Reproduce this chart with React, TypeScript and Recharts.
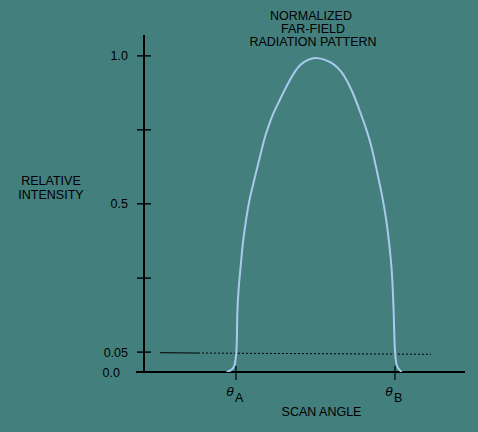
import { Line, LineChart, ReferenceLine, XAxis, YAxis } from "recharts";

// Scan angle in units where theta A = -1 and theta B = +1.
const SCAN_ANGLE = [
  -1.117, -1.054, -1.013, -0.991, -0.987, -0.984, -0.966, -0.941, -0.916, -0.874,
  -0.833, -0.792, -0.761, -0.719, -0.677, -0.635, -0.594, -0.531, -0.468, -0.405,
  -0.321, -0.258, -0.195, -0.111, -0.006, 0.098, 0.224, 0.33, 0.392, 0.475,
  0.56, 0.644, 0.707, 0.77, 0.833, 0.887, 0.928, 0.958, 0.971, 0.984,
  0.991, 1.0, 1.013, 1.034, 1.084,
];
// Relative intensity along the drawn (schematic) axis, 0 = baseline, 1 = peak tick.
const INTENSITY = [
  0, 0.006, 0.017, 0.07, 0.122, 0.196, 0.27, 0.333, 0.407, 0.481,
  0.544, 0.585, 0.618, 0.66, 0.703, 0.745, 0.776, 0.819, 0.85, 0.884,
  0.924, 0.951, 0.972, 0.987, 0.996, 0.99, 0.977, 0.95, 0.924, 0.882,
  0.824, 0.766, 0.713, 0.639, 0.566, 0.491, 0.407, 0.333, 0.27, 0.196,
  0.122, 0.059, 0.028, 0.012, 0,
];

const Y_TICKS = [0, 0.063, 0.297, 0.532, 0.766, 1.0];
const Y_TICK_LABELS = ["0.0", "0.05", "", "0.5", "", "1.0"];
const X_TICKS = [-1, 1];
const X_TICK_LABELS = ["A", "B"];
const TITLE_LINES = ["NORMALIZED", "FAR-FIELD", "RADIATION PATTERN"];
const Y_TITLE_LINES = ["RELATIVE", "INTENSITY"];
const X_TITLE = "SCAN ANGLE";

// 0.05 threshold line: solid lead-in, then dotted.
const THRESHOLD_SOLID = [
  { x: -1.956, y: 0.061 },
  { x: -1.478, y: 0.06 },
];
const THRESHOLD_DOTTED = [
  { x: -1.478, y: 0.06 },
  { x: 1.453, y: 0.056 },
];

const X_DOMAIN: [number, number] = [-2.157, 1.881];
const BASELINE_START = -2.258;
const Y_DOMAIN: [number, number] = [0, 1.066];

const data = SCAN_ANGLE.map((angle, i) => ({ angle, intensity: INTENSITY[i] }));

const BG = "#437f7d";
const FONT = '"Liberation Sans", Arial, Helvetica, sans-serif';

function YTick({ x, y, payload }: any) {
  const label = Y_TICK_LABELS[Y_TICKS.indexOf(payload.value)];
  const isZero = payload.value === 0;
  return (
    <g>
      {!isZero && <line x1={x - 7} x2={x + 7} y1={y} y2={y} stroke="#000" strokeWidth={1.4} />}
      <text x={isZero ? x - 24 : x - 16} y={y + 4.5} textAnchor="end" fontSize={12.5} fontFamily={FONT} fill="#000">
        {label}
      </text>
    </g>
  );
}

function XTick({ x, y, payload }: any) {
  const sub = X_TICK_LABELS[X_TICKS.indexOf(payload.value)];
  return (
    <g>
      <line x1={x} x2={x} y1={y - 6} y2={y + 8} stroke="#000" strokeWidth={1.2} />
      <text x={x - 6} y={y + 24} textAnchor="middle" fontSize={13.5} fontFamily={FONT} fontStyle="italic" fill="#000">
        θ
      </text>
      <text x={x - 1} y={y + 30} textAnchor="start" fontSize={12.5} fontFamily={FONT} fill="#000">
        {sub}
      </text>
    </g>
  );
}

const textStyle = {
  position: "absolute" as const,
  fontFamily: FONT,
  color: "#000",
  textAlign: "center" as const,
  whiteSpace: "nowrap" as const,
  fontSize: 12.5,
  lineHeight: "13px",
  height: 13,
};

export default function App() {
  return (
    <div style={{ position: "fixed", left: 0, top: 0, width: 478, height: 432, background: BG, overflow: "hidden" }}>
      <LineChart width={478} height={432} data={data} margin={{ top: 35, right: 13, bottom: 0, left: 0 }}>
        <XAxis
          dataKey="angle"
          type="number"
          domain={X_DOMAIN}
          allowDataOverflow
          ticks={X_TICKS}
          interval={0}
          axisLine={false}
          tickLine={false}
          tickSize={0}
          tickMargin={0}
          height={60}
          tick={<XTick />}
        />
        <YAxis
          type="number"
          domain={Y_DOMAIN}
          allowDataOverflow
          ticks={Y_TICKS}
          interval={0}
          axisLine={{ stroke: "#000", strokeWidth: 2 }}
          tickLine={false}
          tickSize={0}
          tickMargin={0}
          width={144}
          tick={<YTick />}
        />
        <ReferenceLine
          segment={[
            { x: BASELINE_START, y: 0 },
            { x: X_DOMAIN[1], y: 0 },
          ]}
          stroke="#000"
          strokeWidth={2.2}
          ifOverflow="visible"
        />
        <ReferenceLine segment={THRESHOLD_SOLID} stroke="#000" strokeWidth={1} ifOverflow="visible" />
        <ReferenceLine segment={THRESHOLD_DOTTED} stroke="#000" strokeWidth={1} strokeDasharray="2 2" ifOverflow="visible" />
        <Line
          dataKey="intensity"
          type="basis"
          stroke="#a9c9ee"
          strokeWidth={2}
          dot={false}
          activeDot={false}
          isAnimationActive={false}
        />
      </LineChart>
      {TITLE_LINES.map((line, i) => (
        <div key={line} style={{ ...textStyle, left: 213 + (i === 0 ? -2 : 0), top: 9.5 + i * 13.4, width: 200 }}>
          {line}
        </div>
      ))}
      {Y_TITLE_LINES.map((line, i) => (
        <div key={line} style={{ ...textStyle, left: 1, top: 174.5 + i * 14, width: 100 }}>
          {line}
        </div>
      ))}
      <div style={{ ...textStyle, left: 261.5, top: 406, width: 120 }}>{X_TITLE}</div>
    </div>
  );
}
